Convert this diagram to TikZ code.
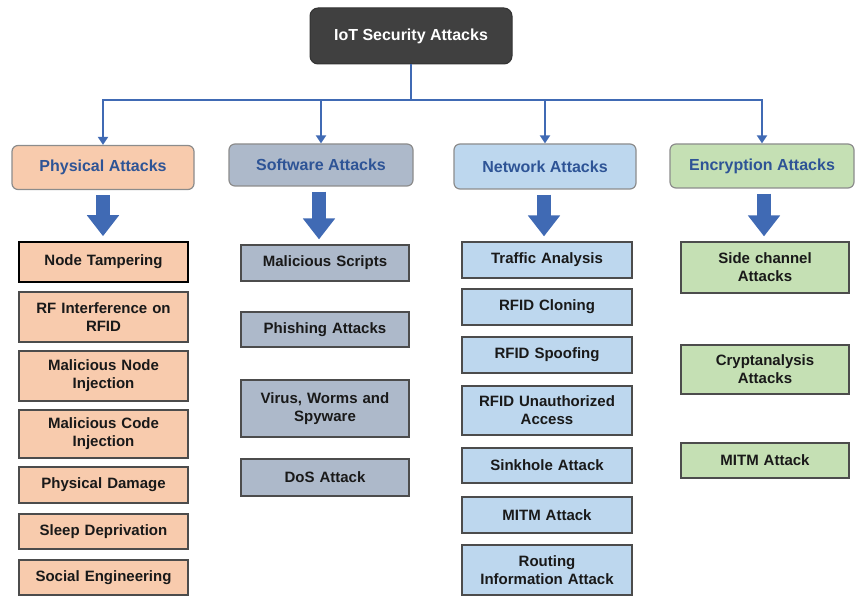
\documentclass[tikz,border=0pt]{standalone}
\usepackage{fontspec}
\setmainfont{Liberation Sans}
\usetikzlibrary{arrows.meta}

\definecolor{linkblue}{RGB}{64,106,180}
\definecolor{rootgray}{RGB}{64,64,64}
\definecolor{hdrtext}{RGB}{46,84,150}
\definecolor{physfill}{RGB}{248,203,173}
\definecolor{softfill}{RGB}{173,185,202}
\definecolor{netfill}{RGB}{189,215,238}
\definecolor{encfill}{RGB}{197,224,180}

\begin{document}
\begin{tikzpicture}
		[x=1pt,y=-1pt,
		 rootbox/.style={draw=black!80,fill=rootgray,rounded corners=8pt,line width=1pt,
			minimum width=202pt,minimum height=56pt,text=white,
			font=\fontsize{16}{19}\selectfont\bfseries},
		 hdr/.style={draw=black!45,line width=1.2pt,rounded corners=6pt,
			minimum height=44pt,text=hdrtext,
			font=\fontsize{16}{19}\selectfont\bfseries},
		 atk/.style={draw=black!70,line width=1.2pt,inner xsep=0pt,inner ysep=1pt,
			align=center,text=black!90,
			font=\fontsize{15}{18}\selectfont\bfseries},
		 p/.style={atk,fill=physfill,text width=169pt},
		 s/.style={atk,fill=softfill,text width=168pt},
		 w/.style={atk,fill=netfill,text width=170pt},
		 e/.style={atk,fill=encfill,text width=168pt},
		 link/.style={draw=linkblue,line width=2.5pt},
		 linkarr/.style={link,-{Triangle[length=8pt,width=10pt]}},
		 bigarr/.style={draw=linkblue,line width=14pt,
			-{Triangle[length=21pt,width=31pt]},shorten <=5pt,shorten >=5pt}]

		\useasboundingbox (0,0) rectangle (856,596);

		% root and categories
		\node[rootbox] (root) at (411,36) {IoT Security Attacks};
		\coordinate (hub) at (411,100);

		\node[hdr,fill=physfill,minimum width=182pt] (phys) at (103,167.5) {Physical Attacks};
		\node[hdr,fill=softfill,minimum width=184pt,minimum height=42pt] (soft) at (321,165) {Software Attacks};
		\node[hdr,fill=netfill,minimum width=182pt,minimum height=45pt] (net) at (545,166.5) {Network Attacks};
		\node[hdr,fill=encfill,minimum width=184pt] (enc) at (762,166) {Encryption Attacks};

		\draw[link] (root) -- (hub);
		\draw[linkarr] (hub) -| (phys);
		\draw[linkarr] (hub) -| (soft);
		\draw[linkarr] (hub) -| (net);
		\draw[linkarr] (hub) -| (enc);

		% physical
		\node[p,minimum height=40pt,draw=black,line width=1.6pt] (p1) at (103.5,262) {Node Tampering};
		\node[p,minimum height=50pt] (p2) at (103.5,317) {RF Interference on\\RFID};
		\node[p,minimum height=50pt] (p3) at (103.5,376) {Malicious Node\\Injection};
		\node[p,minimum height=48pt] (p4) at (103.5,434) {Malicious Code\\Injection};
		\node[p,minimum height=36pt] (p5) at (103.5,485) {Physical Damage};
		\node[p,minimum height=35pt] (p6) at (103.5,531.5) {Sleep Deprivation};
		\node[p,minimum height=35pt] (p7) at (103.5,577.5) {Social Engineering};

		% software
		\node[s,minimum height=36pt] (s1) at (325,263) {Malicious Scripts};
		\node[s,minimum height=35pt] (s2) at (325,329.5) {Phishing Attacks};
		\node[s,minimum height=57pt] (s3) at (325,408.5) {Virus, Worms and\\Spyware};
		\node[s,minimum height=37pt] (s4) at (325,477.5) {DoS Attack};

		% network
		\node[w,minimum height=36pt] (w1) at (547,260) {Traffic Analysis};
		\node[w,minimum height=36pt] (w2) at (547,307) {RFID Cloning};
		\node[w,minimum height=36pt] (w3) at (547,355) {RFID Spoofing};
		\node[w,minimum height=49pt] (w4) at (547,410.5) {RFID Unauthorized\\Access};
		\node[w,minimum height=35pt] (w5) at (547,465.5) {Sinkhole Attack};
		\node[w,minimum height=36pt] (w6) at (547,515) {MITM Attack};
		\node[w,minimum height=50pt] (w7) at (547,570) {Routing\\Information Attack};

		% encryption
		\node[e,minimum height=51pt] (e1) at (765,267.5) {Side channel\\Attacks};
		\node[e,minimum height=49pt] (e2) at (765,369.5) {Cryptanalysis\\Attacks};
		\node[e,minimum height=35pt] (e3) at (765,460.5) {MITM Attack};

		\draw[bigarr] (phys.south) -- (phys.south |- p1.north);
		\draw[bigarr] ([xshift=-2pt]soft.south) -- ([xshift=-2pt]soft.south |- s1.north);
		\draw[bigarr] ([xshift=-1pt]net.south) -- ([xshift=-1pt]net.south |- w1.north);
		\draw[bigarr] ([xshift=2pt]enc.south) -- ([xshift=2pt]enc.south |- e1.north);

	\end{tikzpicture}
\end{document}
